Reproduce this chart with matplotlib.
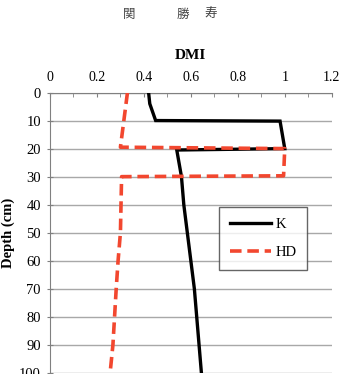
import matplotlib
matplotlib.use("Agg")
import matplotlib.pyplot as plt
from matplotlib.ticker import MultipleLocator

# Data
k_dmi = [0.42, 0.425, 0.45, 0.98, 1.00, 0.54, 0.56, 0.57, 0.585, 0.60, 0.615, 0.625, 0.635, 0.645]
k_depth = [0, 4, 10, 10.2, 20, 20.5, 30, 40, 50, 60, 70, 80, 90, 100]
hd_dmi = [0.33, 0.30, 1.00, 0.995, 0.305, 0.30, 0.29, 0.282, 0.275, 0.268, 0.256]
hd_depth = [0, 19.5, 20, 29.7, 30, 50, 60, 70, 80, 90, 100]
x_ticks = [0, 0.2, 0.4, 0.6, 0.8, 1, 1.2]
x_ticklabels = ["0", "0.2", "0.4", "0.6", "0.8", "1", "1.2"]
y_ticks = [0, 10, 20, 30, 40, 50, 60, 70, 80, 90, 100]

serif = ["Liberation Serif", "DejaVu Serif"]

fig = plt.figure(figsize=(3.39, 3.74), dpi=100)
ax = fig.add_axes([50/339, 1-373/374, (331.7-50)/339, (373-92.5)/374])

ax.plot(k_dmi, k_depth, color="black", lw=2.4, label="K", zorder=3,
        solid_joinstyle="miter")
ax.plot(hd_dmi, hd_depth, color="#F2472F", lw=2.6, ls=(0, (3.2, 1.6)), label="HD", zorder=4)

ax.set_xlim(0, 1.2)
ax.set_ylim(100, 0)
ax.xaxis.set_ticks_position("top")
ax.xaxis.set_label_position("top")
ax.set_xticks(x_ticks)
ax.set_xticklabels(x_ticklabels, fontfamily=serif, fontsize=10)
ax.xaxis.set_minor_locator(MultipleLocator(0.1))
ax.tick_params(axis="x", which="both", direction="in", length=3, color="#808080", pad=6)
ax.set_yticks(y_ticks)
ax.set_yticklabels([str(v) for v in y_ticks], fontfamily=serif, fontsize=10.5)
ax.tick_params(axis="y", direction="inout", length=5, color="#808080", pad=4)

ax.grid(axis="y", color="#a8a8a8", lw=1)
ax.set_axisbelow(True)
for s in ["right", "bottom"]:
    ax.spines[s].set_visible(False)
ax.spines["top"].set_color("#808080")
ax.spines["left"].set_color("#808080")

ax.set_xlabel("DMI", fontfamily=serif, fontweight="bold", fontsize=11, labelpad=9)
ax.set_ylabel("Depth (cm)", fontfamily=serif, fontweight="bold", fontsize=10.5, labelpad=3)

leg = ax.legend(loc="upper left", bbox_to_anchor=((219-50)/281.7, 1-(206.7-92.5)/280.5),
                prop={"family": serif, "size": 10.5}, frameon=True, fancybox=False,
                edgecolor="#404040", handlelength=2.8, labelspacing=1.05,
                borderpad=0.75, handletextpad=0.3, borderaxespad=0)
leg.get_frame().set_linewidth(1)

for ch, x in [("関", 129), ("勝", 183), ("寿", 211)]:
    fig.text(x/339, 1-14/374, ch, ha="center", va="center", fontsize=9,
             color="#444444", fontfamily=["Noto Sans CJK JP", "DejaVu Sans"])

fig.savefig("out.png", dpi=100)
